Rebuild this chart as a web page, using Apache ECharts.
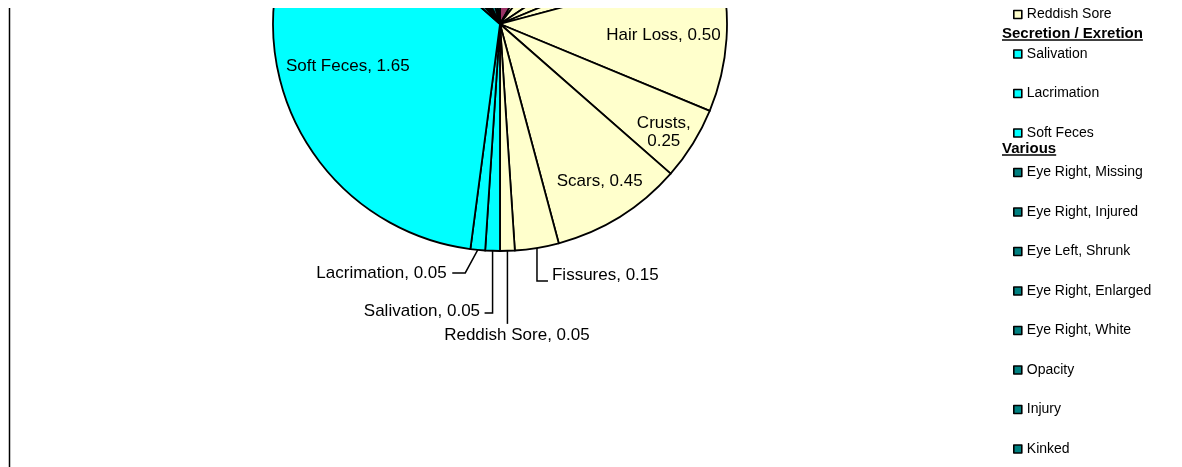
<!DOCTYPE html>
<html>
<head>
<meta charset="utf-8">
<script src="https://cdn.jsdelivr.net/npm/echarts@6/dist/echarts.min.js"></script>
<style>
html, body { margin: 0; padding: 0; background: #fff; }
#main { width: 1182px; height: 467px; }
</style>
</head>
<body>
<div id="main"></div>
<script>
// pie slices, clockwise from 12 o'clock (upper part of the pie is cut off in the picture)
var generalNames = ['Piloerection'];
var generalValues = [0.40];
var skinNames = ['Skin Lesion', 'Swelling', 'Scabs', 'Wound', 'Hair Loss', 'Crusts', 'Scars', 'Fissures', 'Reddish Sore'];
var skinValues = [0.10, 0.25, 0.15, 0.10, 0.50, 0.25, 0.45, 0.15, 0.05];
var secretionNames = ['Salivation', 'Lacrimation', 'Soft Feces'];
var secretionValues = [0.05, 0.05, 1.65];
var variousNames = ['Eye Right, Missing', 'Eye Right, Injured', 'Eye Left, Shrunk', 'Eye Right, Enlarged',
    'Eye Right, White', 'Opacity', 'Injury', 'Kinked'];
var variousValues = [0.10, 0.05, 0.05, 0.05, 0.05, 0.15, 0.10, 0.10];

// legend entries that are visible, and the group headings between them
var legendNames = ['Reddish Sore'].concat(secretionNames, variousNames);
var headerNames = ['Secretion / Exretion', 'Various'];

var groups = [
    {names: generalNames, values: generalValues, color: '#993366'},
    {names: skinNames, values: skinValues, color: '#FFFFCC'},
    {names: secretionNames, values: secretionValues, color: '#00FFFF'},
    {names: variousNames, values: variousValues, color: '#008080'}
];

// pie geometry
var CX = 500, CY = 24, R = 227;
var FONT = 'Liberation Sans, Arial, sans-serif';

// where each shown label goes: inside ones by radius fraction, outside ones by offsets from slice edge
var labelPlace = {
    'Hair Loss':    {r: 0.735, dx: -3, dy: 0},
    'Crusts':       {r: 0.86, dx: -2, dy: 5, wrap: true},
    'Scars':        {r: 0.815, dx: 2, dy: 0},
    'Soft Feces':   {r: 0.66, dx: -12, dy: -10},
    'Fissures':     {line: [[0, 33], [11, 33]], text: [15, 27], align: 'left'},
    'Reddish Sore': {line: [[0, 73]], text: [9.5, 84], align: 'center'},
    'Salivation':   {line: [[0, 62], [-8, 62]], text: [-12.5, 60.5], align: 'right'},
    'Lacrimation':  {line: [[-12.5, 23], [-25.5, 23]], text: [-31, 23], align: 'right'}
};

var pieData = [];
groups.forEach(function (g) {
    g.names.forEach(function (n, i) {
        var p = labelPlace[n];
        pieData.push({
            name: n,
            value: g.values[i],
            itemStyle: {color: g.color},
            label: {show: !!p, position: p && p.r != null ? 'inside' : 'outside'},
            labelLine: {show: !!(p && p.line)}
        });
    });
});

// mid angle of every slice (radians, clockwise from 12 o'clock)
var total = pieData.reduce(function (s, d) { return s + d.value; }, 0);
var midAngle = [];
var acc = 0;
pieData.forEach(function (d) {
    midAngle.push((acc + d.value / 2) / total * Math.PI * 2);
    acc += d.value;
});

var myChart = echarts.init(document.getElementById('main'));

// text width for the heading underlines
var ctx = document.createElement('canvas').getContext('2d');
ctx.font = 'bold 15px ' + FONT;
var headerY = [33.5, 148.5];
var graphics = [
    {type: 'rect', shape: {x: 0, y: 0, width: 1182, height: 8}, style: {fill: '#fff'}, z: 100},
    {type: 'line', shape: {x1: 9.5, y1: 8, x2: 9.5, y2: 467}, style: {stroke: '#000', lineWidth: 1.5}, z: 100}
];
headerNames.forEach(function (h, i) {
    var w = ctx.measureText(h).width;
    graphics.push({
        type: 'text', x: 1002, y: headerY[i], z: 10,
        style: {text: h, fill: '#000', font: 'bold 15px ' + FONT, verticalAlign: 'middle', align: 'left'}
    });
    graphics.push({
        type: 'line', z: 10,
        shape: {x1: 1002, y1: headerY[i] + 6.5, x2: 1002 + w, y2: headerY[i] + 6.5},
        style: {stroke: '#000', lineWidth: 1.5}
    });
});

option = {
    animation: false,
    backgroundColor: '#fff',
    legend: {
        orient: 'vertical',
        left: 1013,
        top: 7.5,
        padding: 0,
        icon: 'rect',
        itemWidth: 8,
        itemHeight: 8,
        itemGap: 25.5,
        data: legendNames,
        itemStyle: {borderColor: '#000', borderWidth: 1.6},
        textStyle: {fontFamily: FONT, fontSize: 14, color: '#000', lineHeight: 14}
    },
    graphic: graphics,
    series: [
        {
            name: 'Findings',
            type: 'pie',
            center: [CX, CY],
            radius: R,
            startAngle: 90,
            clockwise: true,
            avoidLabelOverlap: false,
            emphasis: {disabled: true},
            itemStyle: {borderColor: '#000', borderWidth: 1.8},
            label: {
                fontFamily: FONT,
                fontSize: 17,
                color: '#000',
                lineHeight: 18,
                formatter: function (p) {
                    var pl = labelPlace[p.name];
                    return p.name + ',' + (pl && pl.wrap ? '\n' : ' ') + p.value.toFixed(2);
                }
            },
            labelLine: {lineStyle: {color: '#000', width: 1.5}},
            labelLayout: function (params) {
                var d = pieData[params.dataIndex];
                var p = labelPlace[d.name];
                if (!p) return {};
                var a = midAngle[params.dataIndex];
                var sx = Math.sin(a), sy = -Math.cos(a);
                if (p.r != null) {
                    return {
                        x: CX + sx * R * p.r + p.dx,
                        y: CY + sy * R * p.r + p.dy,
                        align: 'center',
                        verticalAlign: 'middle'
                    };
                }
                var ex = CX + sx * R, ey = CY + sy * R;
                var pts = [[ex, ey]].concat(p.line.map(function (q) { return [ex + q[0], ey + q[1]]; }));
                return {
                    x: ex + p.text[0],
                    y: ey + p.text[1],
                    align: p.align,
                    verticalAlign: 'middle',
                    labelLinePoints: pts
                };
            },
            data: pieData
        }
    ]
};
myChart.setOption(option);
</script>
</body>
</html>
